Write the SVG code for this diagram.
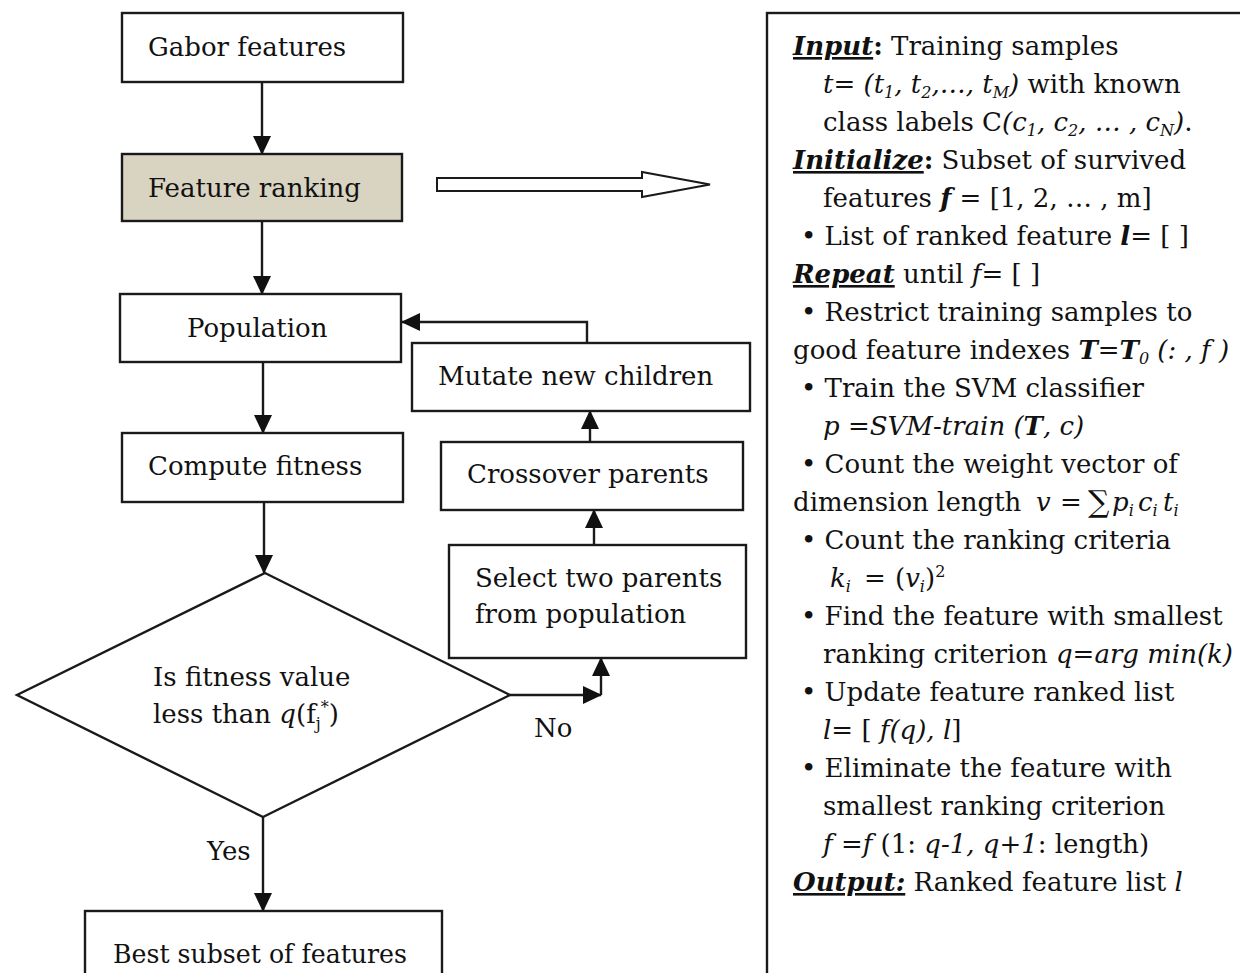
<svg xmlns="http://www.w3.org/2000/svg" width="1240" height="973" viewBox="0 0 1240 973">
<style>
text { font-family: "DejaVu Serif", "Liberation Serif", serif; fill: #111; }
.lbl { font-size: 26px; }
.pt { font-size: 26px; }
.box { fill: #fff; stroke: #1a1a1a; stroke-width: 2.4; }
.rank { fill: #d9d3c1; }
.con { fill: none; stroke: #1a1a1a; stroke-width: 2.4; marker-end: url(#ah); }
.i { font-style: italic; }
.b { font-weight: bold; }
.u { text-decoration: underline; }
.sub { font-size: 16px; }
.big { font-size: 30px; }
</style>
<defs>
<marker id="ah" viewBox="0 0 19 18" refX="18" refY="9" markerWidth="19" markerHeight="18" markerUnits="userSpaceOnUse" orient="auto">
<path d="M0,0 L19,9 L0,18 z" fill="#111"/>
</marker>
</defs>
<rect x="0" y="0" width="1240" height="973" fill="#fff"/>

<g id="connectors">
<line class="con" x1="262" y1="82" x2="262" y2="154"/>
<line class="con" x1="262" y1="221" x2="262" y2="294"/>
<line class="con" x1="263" y1="362" x2="263" y2="433"/>
<line class="con" x1="264" y1="502" x2="264" y2="573"/>
<line class="con" x1="263" y1="817" x2="263" y2="911"/>
<path class="con" d="M510,695 H601"/>
<path class="con" d="M601,695 V658"/>
<path class="con" d="M594,545 V510"/>
<path class="con" d="M590,442 V411"/>
<path class="con" d="M587,343 V322 H402"/>
<polygon points="437,178 642,178 642,172 710,184.5 642,197 642,191 437,191" fill="#fff" stroke="#1a1a1a" stroke-width="2"/>
<text class="lbl" x="534" y="737">No</text>
<text class="lbl" x="207" y="860">Yes</text>
</g>

<g id="gabor">
<rect class="box" x="122" y="13" width="281" height="69"/>
<text class="lbl" x="148" y="56">Gabor features</text>
</g>
<g id="ranking">
<rect class="box rank" x="122" y="154" width="280" height="67"/>
<text class="lbl" x="148" y="197">Feature ranking</text>
</g>
<g id="population">
<rect class="box" x="120" y="294" width="281" height="68"/>
<text class="lbl" x="187" y="337">Population</text>
</g>
<g id="fitness">
<rect class="box" x="122" y="433" width="281" height="69"/>
<text class="lbl" x="148" y="475">Compute fitness</text>
</g>
<g id="decision">
<polygon class="box" points="265,573 510,695 263,817 17,695"/>
<text class="lbl" x="153" y="686">Is fitness value</text>
<text class="lbl" x="153" y="723">less than <tspan class="i">q</tspan>(f<tspan class="sub" dy="6">j</tspan><tspan dy="-16" class="sub">*</tspan><tspan dy="10">)</tspan></text>
</g>
<g id="best">
<rect class="box" x="85" y="911" width="357" height="80"/>
<text class="lbl" x="113" y="963" textLength="294" lengthAdjust="spacingAndGlyphs">Best subset of features</text>
</g>
<g id="select">
<rect class="box" x="449" y="545" width="297" height="113"/>
<text class="lbl" x="475" y="587">Select two parents</text>
<text class="lbl" x="475" y="623">from population</text>
</g>
<g id="crossover">
<rect class="box" x="441" y="442" width="302" height="68"/>
<text class="lbl" x="467" y="483">Crossover parents</text>
</g>
<g id="mutate">
<rect class="box" x="412" y="343" width="338" height="68"/>
<text class="lbl" x="438" y="385">Mutate new children</text>
</g>

<g id="panel">
<rect x="767" y="13" width="520" height="1000" fill="#fff" stroke="#1a1a1a" stroke-width="2.4"/>
<text class="pt" x="793" y="55"><tspan class="b i u">Input</tspan><tspan class="b">:</tspan> Training samples</text>
<text class="pt" x="823" y="93"><tspan class="i">t</tspan>= <tspan class="i">(t<tspan class="sub" dy="5">1</tspan><tspan dy="-5">, t</tspan><tspan class="sub" dy="5">2</tspan><tspan dy="-5">,…, t</tspan><tspan class="sub" dy="5">M</tspan><tspan dy="-5">)</tspan></tspan> with known</text>
<text class="pt" x="823" y="131">class labels C<tspan class="i">(c<tspan class="sub" dy="5">1</tspan><tspan dy="-5">, c</tspan><tspan class="sub" dy="5">2</tspan><tspan dy="-5">, … , c</tspan><tspan class="sub" dy="5">N</tspan><tspan dy="-5">)</tspan></tspan>.</text>
<text class="pt" x="793" y="169"><tspan class="b i u">Initialize</tspan><tspan class="b">:</tspan> Subset of survived</text>
<text class="pt" x="823" y="207">features <tspan class="b i">f</tspan> = [1, 2, … , m]</text>
<text class="pt" x="801" y="245">• List of ranked feature <tspan class="b i">l</tspan>= [ ]</text>
<text class="pt" x="793" y="283"><tspan class="b i u">Repeat</tspan> until <tspan class="i">f</tspan>= [ ]</text>
<text class="pt" x="801" y="321">• Restrict training samples to</text>
<text class="pt" x="793" y="359">good feature indexes <tspan class="b i">T</tspan>=<tspan class="b i">T</tspan><tspan class="i sub" dy="5">0</tspan><tspan class="i" dy="-5"> (: , f )</tspan></text>
<text class="pt" x="801" y="397">• Train the SVM classifier</text>
<text class="pt" x="823" y="435"><tspan class="i">p =SVM-train (</tspan><tspan class="b i">T</tspan><tspan class="i">, c)</tspan></text>
<text class="pt" x="801" y="473">• Count the weight vector of</text>
<text class="pt" x="793" y="511">dimension length <tspan class="i" x="1036">v</tspan><tspan x="1060">=</tspan><tspan class="big" x="1088" dy="1">∑</tspan><tspan class="i" x="1112" dy="-1">p</tspan><tspan class="sub i" dy="5">i</tspan><tspan class="i" x="1138" dy="-5">c</tspan><tspan class="sub i" dy="5">i</tspan><tspan class="i" x="1163" dy="-5">t</tspan><tspan class="sub i" dy="5">i</tspan></text>
<text class="pt" x="801" y="549">• Count the ranking criteria</text>
<text class="pt" x="830" y="587"><tspan class="i">k</tspan><tspan class="sub i" dy="5">i</tspan><tspan x="864" dy="-5">=</tspan><tspan x="895">(</tspan><tspan class="i">v</tspan><tspan class="sub i" dy="5">i</tspan><tspan dy="-5">)</tspan><tspan class="sub" dy="-10">2</tspan></text>
<text class="pt" x="801" y="625">• Find the feature with smallest</text>
<text class="pt" x="823" y="663">ranking criterion <tspan class="i">q=arg min(k)</tspan></text>
<text class="pt" x="801" y="701">• Update feature ranked list</text>
<text class="pt" x="823" y="739"><tspan class="i">l</tspan>= [ <tspan class="i">f(q), l</tspan>]</text>
<text class="pt" x="801" y="777">• Eliminate the feature with</text>
<text class="pt" x="823" y="815">smallest ranking criterion</text>
<text class="pt" x="823" y="853"><tspan class="i">f</tspan> =<tspan class="i">f</tspan> (1: <tspan class="i">q-1, q+1</tspan>: length)</text>
<text class="pt" x="793" y="891"><tspan class="b i u">Output:</tspan> Ranked feature list <tspan class="i">l</tspan></text>
</g>
</svg>
